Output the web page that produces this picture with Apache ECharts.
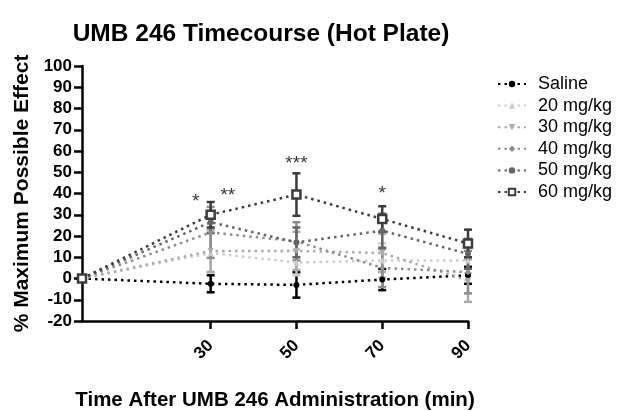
<!DOCTYPE html>
<html>
<head>
<meta charset="utf-8">
<script src="https://cdn.jsdelivr.net/npm/echarts@6/dist/echarts.min.js"></script>
<style>
html,body{margin:0;padding:0;background:#fff;}
#main{width:626px;height:411px;}
</style>
</head>
<body>
<div id="main"></div>
<script>
// 数据
var times = [0, 30, 50, 70, 90];
var xTicks = [30, 50, 70, 90];
var names = ['Saline', '20 mg/kg', '30 mg/kg', '40 mg/kg', '50 mg/kg', '60 mg/kg'];
var saline = [0, -2.5, -3, -0.5, 1.5];
var mg20 = [0, 12, 7.5, 8.5, 8.5];
var mg30 = [0, 13, 13, 12, -1];
var mg40 = [0, 21.7, 17.5, 5, 3];
var mg50 = [0, 26.5, 17, 22.5, 11.6];
var mg60 = [0, 30, 39.5, 28, 16.5];
var errSaline = [0, 4, 6, 5, 4];
var err20 = [0, 9, 6, 8, 6];
var err30 = [0, 10, 9, 9, 10];
var err40 = [0, 12, 9, 9, 10];
var err50 = [0, 5, 7, 8, 7];
var err60 = [0, 6, 10, 6, 6.5];
var starX = [26.5, 34, 50, 70];
var starY = [36, 39, 54, 40];
var starText = ['*', '**', '***', '*'];

var colors = ['#000000', '#cdcdcd', '#ababab', '#8e8e8e', '#656565', '#3c3c3c'];
var symbols = ['circle', 'triangle', 'path://M0,0L10,0L5,10Z', 'diamond', 'circle', 'rect'];
var means = [saline, mg20, mg30, mg40, mg50, mg60];
var errs = [errSaline, err20, err30, err40, err50, err60];
var font = 'Liberation Sans';

var myChart = echarts.init(document.getElementById('main'));

var series = [];
// 误差线
for (let i = 0; i < names.length; i++) {
    let d = [];
    for (let j = 1; j < times.length; j++) {
        d.push([times[j], means[i][j] - errs[i][j], means[i][j] + errs[i][j]]);
    }
    series.push({
        type: 'custom',
        z: 1,
        silent: true,
        data: d,
        renderItem: function (params, api) {
            var lo = api.coord([api.value(0), api.value(1)]);
            var hi = api.coord([api.value(0), api.value(2)]);
            var w = 4;
            var st = { stroke: colors[i], lineWidth: 2.5 };
            return {
                type: 'group',
                children: [
                    { type: 'line', shape: { x1: lo[0], y1: lo[1], x2: hi[0], y2: hi[1] }, style: st },
                    { type: 'line', shape: { x1: lo[0] - w, y1: lo[1], x2: lo[0] + w, y2: lo[1] }, style: st },
                    { type: 'line', shape: { x1: hi[0] - w, y1: hi[1], x2: hi[0] + w, y2: hi[1] }, style: st }
                ]
            };
        }
    });
}
// 折线
for (let i = 0; i < names.length; i++) {
    series.push({
        name: names[i],
        type: 'line',
        z: 3,
        data: times.map(function (t, j) { return [t, means[i][j]]; }),
        symbol: symbols[i],
        symbolSize: i == 5 ? 8 : 6,
        showSymbol: true,
        lineStyle: { color: colors[i], width: 2.5, type: [2.5, 4], cap: 'butt' },
        itemStyle: i == 5
            ? { color: '#ffffff', borderColor: colors[i], borderWidth: 2.5 }
            : { color: colors[i], borderWidth: 0 }
    });
}
// 星号
series.push({
    type: 'scatter',
    symbolSize: 0,
    silent: true,
    data: starX.map(function (x, k) { return [x, starY[k], starText[k]]; }),
    label: {
        show: true,
        position: 'inside',
        formatter: function (p) { return p.data[2]; },
        color: '#000',
        fontSize: 19,
        fontFamily: font
    }
});

var option = {
    animation: false,
    backgroundColor: '#fff',
    title: {
        text: 'UMB 246 Timecourse (Hot Plate)',
        left: 256,
        textAlign: 'center',
        top: 17,
        textStyle: { fontSize: 24.5, fontWeight: 'bold', color: '#000', fontFamily: font }
    },
    legend: {
        orient: 'vertical',
        left: 492,
        top: 70,
        itemWidth: 28,
        itemHeight: 8,
        itemGap: 3.6,
        data: names,
        textStyle: { fontSize: 18, lineHeight: 18, color: '#000', fontFamily: font, padding: [0, 0, 0, 7] }
    },
    grid: { left: 82, right: 158, top: 66, bottom: 90, containLabel: false, outerBoundsMode: 'none' },
    xAxis: {
        type: 'value',
        min: 0,
        max: 90,
        name: 'Time After UMB 246 Administration (min)',
        nameLocation: 'middle',
        nameGap: 69,
        nameTextStyle: { fontSize: 20.5, fontWeight: 'bold', color: '#000', fontFamily: font },
        splitLine: { show: false },
        axisLine: { onZero: false, lineStyle: { color: '#000', width: 2.5 } },
        axisTick: { show: true, length: 8, lineStyle: { color: '#000', width: 2.5 }, customValues: xTicks },
        axisLabel: {
            rotate: 45,
            margin: 22,
            customValues: xTicks,
            fontSize: 17,
            fontWeight: 'bold',
            color: '#000',
            fontFamily: font
        }
    },
    yAxis: {
        type: 'value',
        min: -20,
        max: 100,
        interval: 10,
        name: '% Maximum Possible Effect',
        nameLocation: 'middle',
        nameGap: 49,
        nameTextStyle: { fontSize: 21, fontWeight: 'bold', color: '#000', fontFamily: font },
        splitLine: { show: false },
        axisLine: { show: true, onZero: false, lineStyle: { color: '#000', width: 2.5 } },
        axisTick: { show: true, length: 8, lineStyle: { color: '#000', width: 2.5 } },
        axisLabel: { margin: 10, fontSize: 17, fontWeight: 'bold', color: '#000', fontFamily: font }
    },
    series: series
};
myChart.setOption(option);
</script>
</body>
</html>
